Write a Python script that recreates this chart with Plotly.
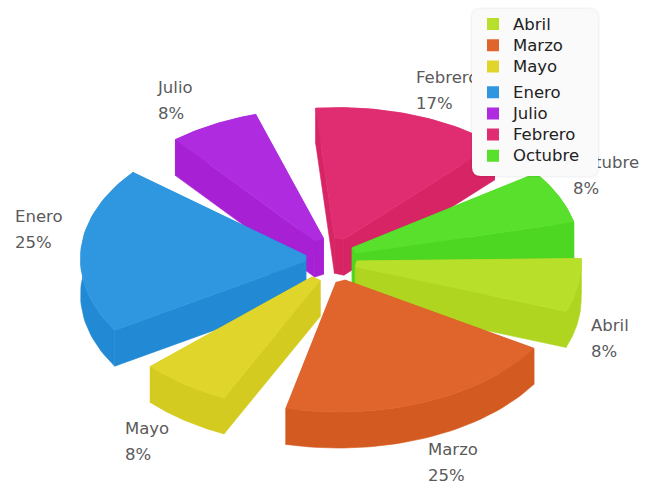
import numpy as np
import plotly.graph_objects as go

categories = ["Abril", "Marzo", "Mayo", "Enero", "Julio", "Febrero", "Octubre"]
values = [8, 25, 8, 25, 8, 17, 8]
top_colors = ["#B8E02B", "#E0652D", "#E0D52B", "#2F97E0", "#AE2BE0", "#E02D72", "#58E02D"]
wall_colors = ["#AFD520", "#D35A20", "#D4CB20", "#228AD4", "#A720D4", "#D62464", "#4DD622"]
label_x = [591, 428, 125, 15, 158, 416, 573]
label_y = [327, 451, 430, 218, 89, 79, 164]

W, H = 649, 488
START, GAP = -1.8, 11.3
CX, CY, EX, EY = 331, 260, 19.5, 17
R, K, DEPTH = 231, 0.59, 36
INNER_D, INNER_W = 6, 5

fig = go.Figure()
unit = (360 - GAP * len(values)) / sum(values)


def poly(x, y, color):
    fig.add_trace(go.Scatter(x=list(x) + [x[0]], y=list(y) + [y[0]], mode="lines", fill="toself",
                             fillcolor=color, line=dict(color=color, width=0.6),
                             hoverinfo="skip", showlegend=False))


def extrude(x, y, color):
    x, y = np.asarray(x), np.asarray(y)
    poly(np.r_[x, x[::-1]], np.r_[y, y[::-1] + DEPTH], color)


slices = []
a = START
for i, v in enumerate(values):
    span = v * unit
    slices.append((np.sin(np.radians(a + span / 2)), i, a, a + span))
    a += span + GAP

for _, i, a0, a1 in sorted(slices):
    m = np.radians((a0 + a1) / 2)
    c = (CX + EX * np.cos(m), CY + EY * np.sin(m))
    t = np.radians(np.linspace(a0, a1, 40))
    ox, oy = c[0] + R * np.cos(t), c[1] + K * R * np.sin(t)
    bx = c[0] + INNER_D * np.cos(m)
    by = c[1] + INNER_D * np.sin(m)
    tanx, tany = -np.sin(m) * INNER_W, K * np.cos(m) * INNER_W
    ix = [bx + tanx, bx - tanx]   # end-side then start-side
    iy = [by + tany, by - tany]
    extrude(ox, oy, wall_colors[i])
    extrude([ox[-1], ix[0]], [oy[-1], iy[0]], wall_colors[i])
    extrude(ix, iy, wall_colors[i])
    extrude([ix[1], ox[0]], [iy[1], oy[0]], wall_colors[i])
    poly(np.r_[ox, ix], np.r_[oy, iy], top_colors[i])

for i, cat in enumerate(categories):
    fig.add_trace(go.Scatter(x=[label_x[i], label_x[i]], y=[label_y[i], label_y[i] + 26],
                             mode="text", text=[cat, f"{values[i]}%"], textposition="middle right",
                             textfont=dict(family="DejaVu Sans", size=16.5, color="#5a5a5a"),
                             hoverinfo="skip", showlegend=False))

for i, cat in enumerate(categories):
    fig.add_trace(go.Scatter(x=[None], y=[None], mode="markers",
                             name=f'<span style="font-size:16.5px">{cat}</span>',
                             legendgroup="a" if i < 3 else "b",
                             marker=dict(symbol="square", size=10, color=top_colors[i])))


def rounded(x0, y0, x1, y1, r):
    return (f"M{x0+r},{y0} L{x1-r},{y0} Q{x1},{y0} {x1},{y0+r} L{x1},{y1-r} Q{x1},{y1} {x1-r},{y1} "
            f"L{x0+r},{y1} Q{x0},{y1} {x0},{y1-r} L{x0},{y0+r} Q{x0},{y0} {x0+r},{y0} Z")


shapes = [dict(type="path", path=rounded(472 - d, 9 - d, 598 + d, 176 + d, 9 + d), xref="x", yref="y",
               line=dict(width=0), fillcolor="rgba(0,0,0,0.025)", layer="above") for d in (2, 1)]
shapes.append(dict(type="path", path=rounded(472, 9, 598, 176, 9), xref="x", yref="y",
                   line=dict(width=0), fillcolor="#FAFAFA", layer="above"))

fig.update_layout(
    width=W, height=H, autosize=False, margin=dict(l=0, r=0, t=0, b=0),
    paper_bgcolor="white", plot_bgcolor="white", shapes=shapes,
    xaxis=dict(range=[0, W], visible=False, fixedrange=True),
    yaxis=dict(range=[H, 0], visible=False, fixedrange=True),
    legend=dict(x=473 / W, y=1 - 8.5 / H, xanchor="left", yanchor="top", bgcolor="rgba(0,0,0,0)",
                borderwidth=0, tracegroupgap=4.5, itemsizing="constant", itemwidth=30,
                font=dict(family="DejaVu Sans", size=14, color="#222222")),
)
fig.write_html("out.html", config=dict(displayModeBar=False),
               post_script="document.body.style.margin='0';document.body.style.overflow='hidden';")
